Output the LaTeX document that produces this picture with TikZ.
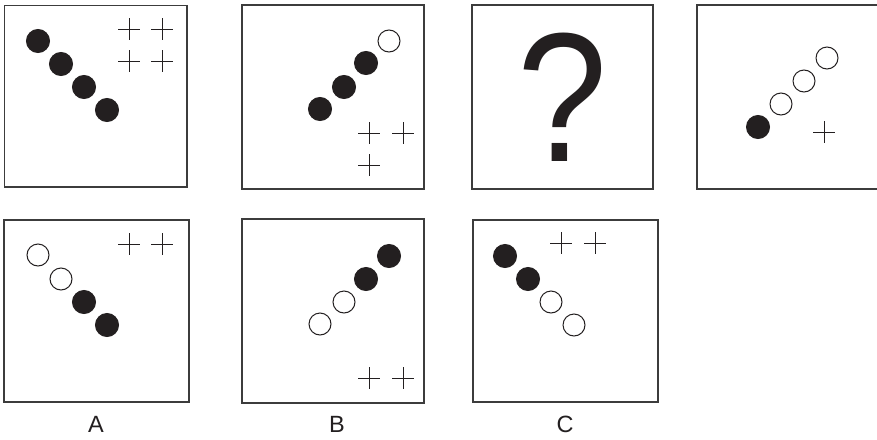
\documentclass[tikz,border=0pt]{standalone}
\usepackage{fontspec}
\setmainfont{Liberation Sans}
\usepackage{tikz}
\usetikzlibrary{positioning}
\definecolor{ink}{HTML}{231F20}
\definecolor{frame}{HTML}{3C3C3C}
\tikzset{
  panel/.style={draw=frame, line width=1.1pt},
  dotfull/.style={circle, fill=ink, draw=ink, line width=1pt, minimum size=23pt, inner sep=0pt},
  dotopen/.style={circle, fill=white, draw=ink, line width=1pt, minimum size=22pt, inner sep=0pt},
  plussign/.pic={\draw[ink, line width=1pt] (-11,0) -- (11,0) (0,-11) -- (0,11);},
  choice/.style={font=\fontsize{23.5}{23.5}\selectfont, text=ink, inner sep=0pt}
}

\begin{document}
\begin{tikzpicture}[x=1pt, y=-1pt]
  \useasboundingbox (0,0) rectangle (877,439);
  % top row
  \draw[panel] (4.5,5.5) rectangle (187,187);
  \draw[panel] (242,5) rectangle (424,189);
  \draw[panel] (472,5) rectangle (653,189);
  \draw[panel] (878,5) -- (697,5) -- (697,189) -- (878,189);
  % bottom row
  \draw[panel] (4,220) rectangle (189,402);
  \draw[panel] (242,219) rectangle (424,403);
  \draw[panel] (473,220) rectangle (658,402);

  % panel 1
  \foreach \x/\y/\s [count=\i] in {38/41/dotfull, 61/64/dotfull, 84/87/dotfull, 107/110/dotfull}
    \node[\s] (one-\i) at (\x,\y) {};
  \foreach \x/\y in {129/29, 162/29, 129/61, 162/61}
    \pic at (\x,\y) {plussign};
  % panel 2
  \foreach \x/\y/\s [count=\i] in {320/109/dotfull, 344/87/dotfull, 366/63/dotfull, 389/41/dotopen}
    \node[\s] (two-\i) at (\x,\y) {};
  \foreach \x/\y in {369/133, 403/133, 369/165}
    \pic at (\x,\y) {plussign};
  % panel 3
  \node[text=ink, inner sep=0pt, xscale=0.88, font=\fontsize{184}{184}\selectfont] (ask) at (563,97) {?};
  % panel 4
  \foreach \x/\y/\s [count=\i] in {758/127/dotfull, 781/104/dotopen, 804/81/dotopen, 827/58/dotopen}
    \node[\s] (four-\i) at (\x,\y) {};
  \pic at (824,132) {plussign};

  % answer A
  \foreach \x/\y/\s [count=\i] in {38/255/dotopen, 61/279/dotopen, 84/302/dotfull, 107/325/dotfull}
    \node[\s] (optA-\i) at (\x,\y) {};
  \foreach \x/\y in {129/244, 162/244}
    \pic at (\x,\y) {plussign};
  % answer B
  \foreach \x/\y/\s [count=\i] in {320/324/dotopen, 344/302/dotopen, 366/279/dotfull, 389/256/dotfull}
    \node[\s] (optB-\i) at (\x,\y) {};
  \foreach \x/\y in {369/378, 403/378}
    \pic at (\x,\y) {plussign};
  % answer C
  \foreach \x/\y/\s [count=\i] in {505/256/dotfull, 528/279/dotfull, 551/302/dotopen, 574/325/dotopen}
    \node[\s] (optC-\i) at (\x,\y) {};
  \foreach \x/\y in {561/243, 595/243}
    \pic at (\x,\y) {plussign};

  % labels
  \node[choice] (labA) at (96,424) {A};
  \node[choice] (labB) at (337,424) {B};
  \node[choice] (labC) at (565,424) {C};
\end{tikzpicture}
\end{document}
